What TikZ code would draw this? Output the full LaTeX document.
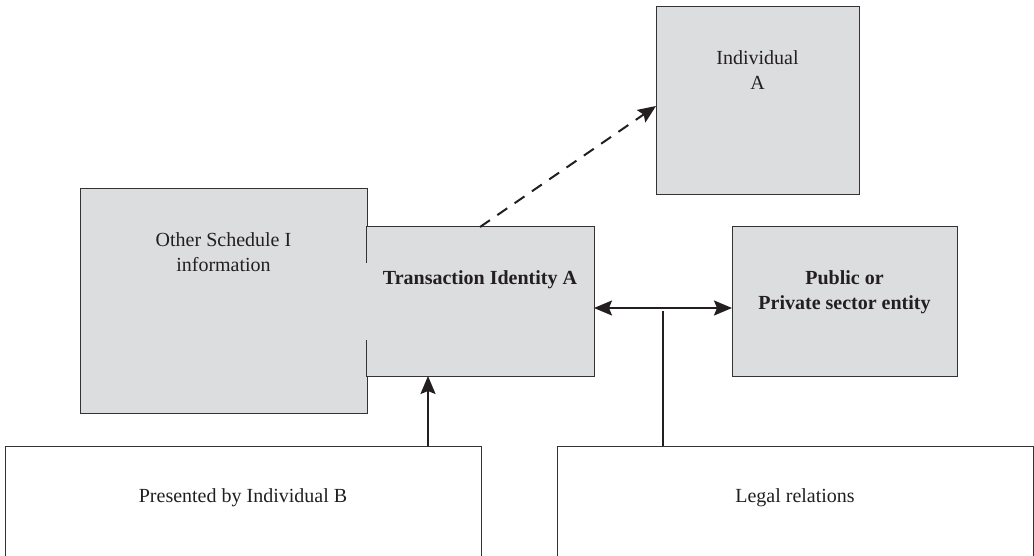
\documentclass[tikz,border=0pt]{standalone}
\usepackage{fontspec}
\setmainfont{Liberation Serif}
\usetikzlibrary{calc,positioning,arrows.meta}
\definecolor{boxgray}{HTML}{DCDDDF}
\definecolor{ink}{HTML}{231F20}

\begin{document}
\begin{tikzpicture}[x=1pt,y=1pt,
  every node/.style={font=\fontsize{20}{25}\selectfont,text=ink,inner sep=0pt,outer sep=0pt,align=center},
  greybox/.style={draw=black!80,line width=1pt,fill=boxgray},
  whitebox/.style={draw=black!80,line width=1pt,fill=white},
  boxline/.style={draw=black!80,line width=1pt},
  link/.style={draw=ink,line width=2pt,>={Stealth[length=18pt,width=15pt,inset=3pt]}}]
\useasboundingbox (0,0) rectangle (1034,555);
% boxes
\node [greybox,minimum width=287pt,minimum height=224pt] (Other) at (223.5,254) {};
\node [greybox,draw=none,minimum width=228pt,minimum height=149pt] (Trans) at (480,253.5) {};
\draw [boxline] ($(Trans.north west)+(0,-36)$) -- (Trans.north west) -- (Trans.north east) -- (Trans.south east) -- (Trans.south west) -- ($(Trans.south west)+(0,36)$);
\node [greybox,minimum width=203pt,minimum height=188pt] (IndA) at (757.5,454) {};
\node [greybox,minimum width=225pt,minimum height=149pt] (Public) at (844.5,253.5) {};
\node [whitebox,minimum width=476pt,minimum height=140pt] (Presented) at (243,39) {};
\node [whitebox,minimum width=476pt,minimum height=140pt] (Legal) at (795,39) {};
% texts
\node [anchor=north] (OtherText) at ($(Other.north)+(0,-44)$) {Other Schedule I\\information};
\node [anchor=north] (TransText) at ($(Trans.north)+(0,-44)$) {\bfseries Transaction Identity A};
\node [anchor=north] (IndAText) at ($(IndA.north)+(0,-44)$) {Individual\\A};
\node [anchor=north] (PublicText) at ($(Public.north)+(0,-44)$) {\bfseries Public or\\\bfseries Private sector entity};
\node [anchor=north] (PresentedText) at ($(Presented.north)+(0,-43)$) {Presented by Individual B};
\node [anchor=north] (LegalText) at ($(Legal.north)+(0,-43)$) {Legal relations};
% connectors
\draw [link,<->] ($(Trans.east)+(0,-6.5)$) -- coordinate (Link) ($(Public.west)+(0,-6.5)$);
\draw [link] ($(Link)+(0,-3)$) -- (Link |- Legal.north);
\draw [link,->] ($(Trans.south |- Presented.north)+(-52,0)$) -- ($(Trans.south)+(-52,0)$);
\draw [link,->,dash pattern=on 12pt off 9pt] (Trans.north) -- ($(IndA.west)+(0,-5)$);
\end{tikzpicture}
\end{document}
